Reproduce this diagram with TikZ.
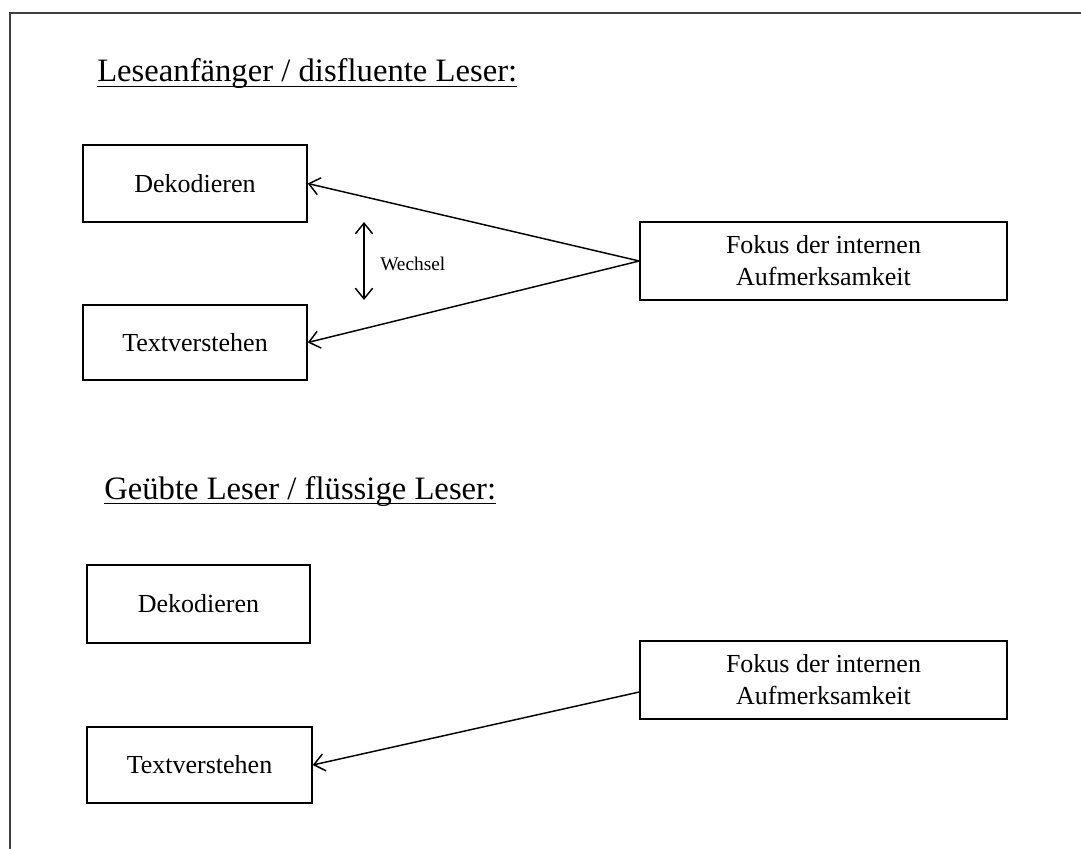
\documentclass[tikz,border=0pt]{standalone}
\usepackage{fontspec}
\setmainfont{Liberation Serif}
\usetikzlibrary{arrows.meta}
\begin{document}
\begin{tikzpicture}[x=0.75pt,y=-0.75pt,
  frameline/.style={draw=black!75,line width=1.5pt},
  box/.style={draw,line width=1.1pt,rectangle,inner sep=0pt,font=\fontsize{19.5}{24}\selectfont,align=center},
  heading/.style={anchor=base west,inner sep=0pt,font=\fontsize{24.5}{29}\selectfont},
  uline/.style={line width=0.9pt},
  smalllabel/.style={anchor=west,inner sep=0pt,font=\fontsize{14.5}{17}\selectfont},
  arr/.style={line width=1.1pt,-{Straight Barb[length=8pt,width=13pt,line width=1.1pt]}},
  dblarr/.style={line width=1.1pt,{Straight Barb[length=8pt,width=13pt,line width=1.1pt]}-{Straight Barb[length=8pt,width=13pt,line width=1.1pt]}}]
\useasboundingbox (0,0) rectangle (1081,849);
\fill[white] (0,0) rectangle (1081,849);
% frame (only top and left edges visible)
\coordinate (fbl) at (10,849);
\coordinate (ftl) at (10,13);
\coordinate (ftr) at (1081,13);
\draw[frameline] (fbl) -- (ftl) -- (ftr);

% upper part
\node[heading] (h1) at (97,82) {Leseanfänger / disfluente Leser:};
\draw[uline] ([yshift=-3.2pt]h1.base west) -- ([yshift=-3.2pt]h1.base east);
\node[box,minimum width=224*0.75pt,minimum height=77*0.75pt] (d1) at (195,183.5) {Dekodieren};
\node[box,minimum width=224*0.75pt,minimum height=75*0.75pt] (t1) at (195,342.5) {Textverstehen};
\node[box,minimum width=367*0.75pt,minimum height=78*0.75pt] (f1) at (823.5,261) {Fokus der internen\\Aufmerksamkeit};
\draw[arr] (f1.west) -- (d1.east);
\draw[arr] (f1.west) -- (t1.east);
\coordinate (wa) at (364,222);
\coordinate (wb) at (364,300);
\draw[dblarr] (wa) -- (wb);
\node[smalllabel] (w) at (380,264) {Wechsel};

% lower part
\node[heading] (h2) at (104,499) {Geübte Leser / flüssige Leser:};
\draw[uline] ([yshift=-3.2pt]h2.base west) -- ([yshift=-3.2pt]h2.base east);
\node[box,minimum width=223*0.75pt,minimum height=78*0.75pt] (d2) at (198.5,604) {Dekodieren};
\node[box,minimum width=225*0.75pt,minimum height=76*0.75pt] (t2) at (199.5,765) {Textverstehen};
\node[box,minimum width=367*0.75pt,minimum height=78*0.75pt] (f2) at (823.5,680) {Fokus der internen\\Aufmerksamkeit};
\draw[arr] ([yshift=-9pt]f2.west) -- (t2.east);
\end{tikzpicture}
\end{document}
